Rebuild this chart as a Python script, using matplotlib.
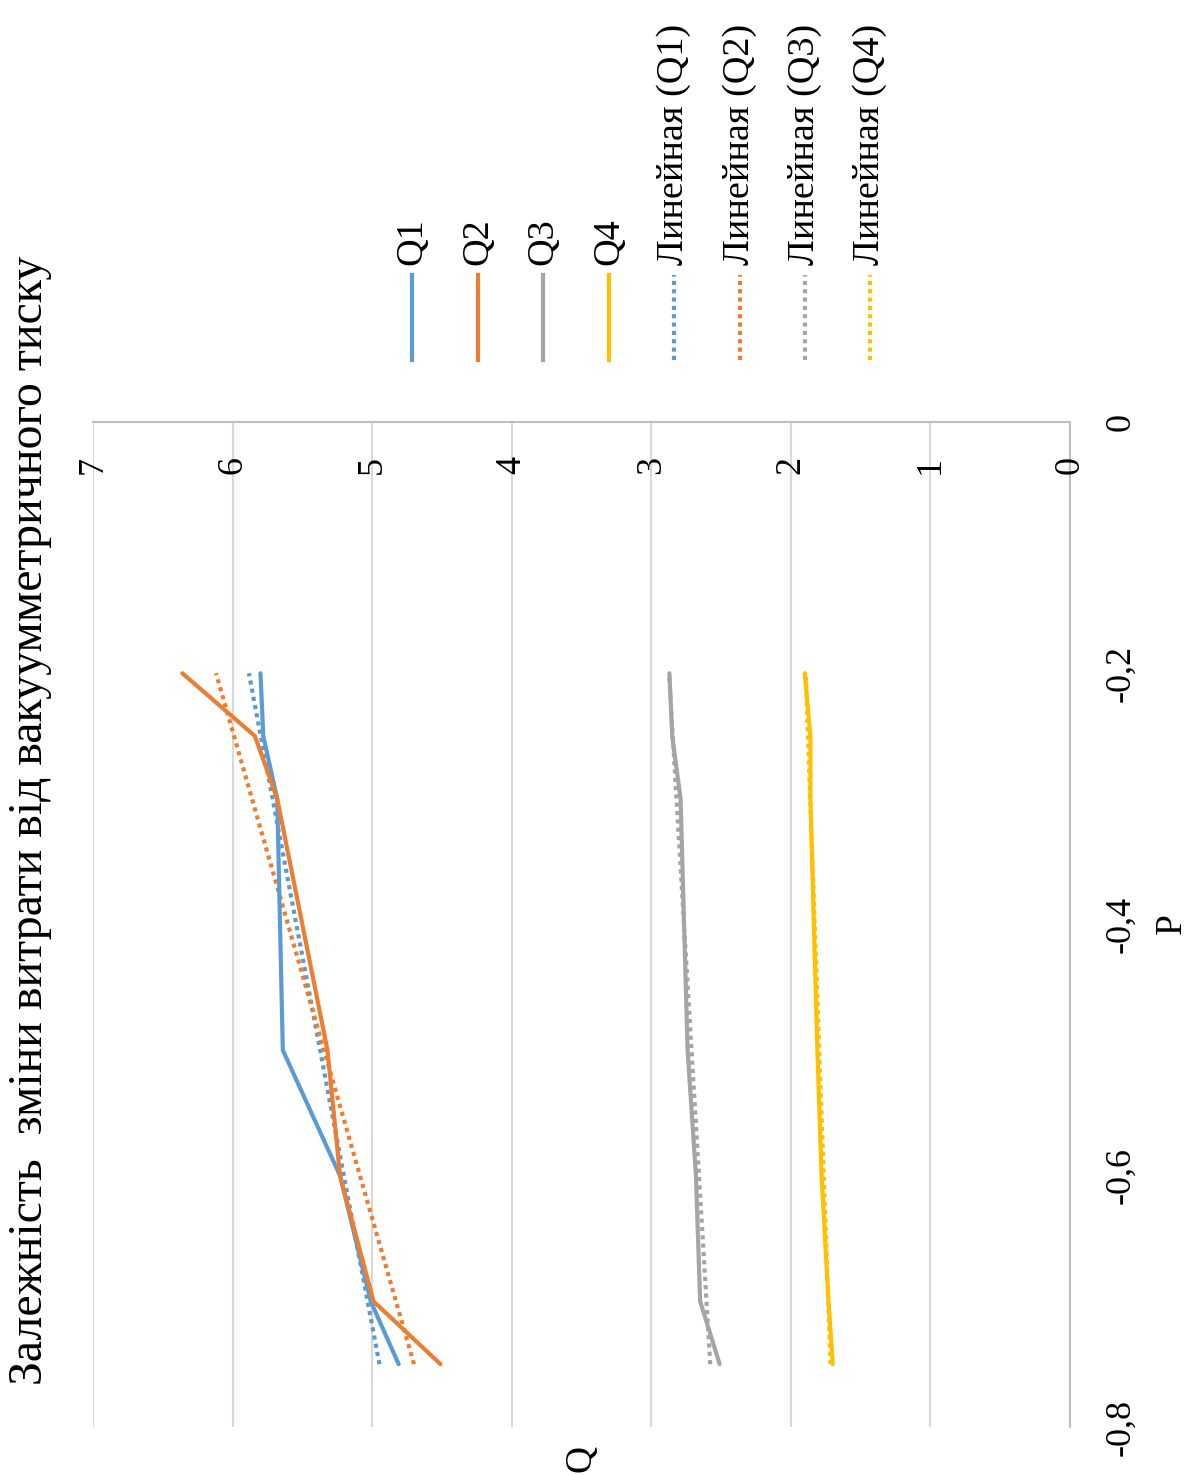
import numpy as np
import matplotlib.pyplot as plt
from matplotlib.lines import Line2D

plt.rcParams['font.family'] = ['Liberation Serif', 'DejaVu Serif']

# --- Data ---
p_vals = [-0.2, -0.25, -0.3, -0.5, -0.6, -0.7, -0.75]
q1 = [5.80, 5.78, 5.68, 5.64, 5.23, 5.01, 4.81]
q2 = [6.36, 5.84, 5.68, 5.32, 5.23, 4.99, 4.51]
q3 = [2.87, 2.85, 2.79, 2.74, 2.68, 2.65, 2.51]
q4 = [1.90, 1.86, 1.86, 1.81, 1.78, 1.73, 1.70]

series_names = ['Q1', 'Q2', 'Q3', 'Q4']
trend_names = ['Линейная (Q1)', 'Линейная (Q2)', 'Линейная (Q3)', 'Линейная (Q4)']
colors = ['#5B9BD5', '#ED7D31', '#A5A5A5', '#FFC000']

q_ticks = [0, 1, 2, 3, 4, 5, 6, 7]
p_ticks = [-0.8, -0.6, -0.4, -0.2, 0]
p_tick_labels = ['-0,8', '-0,6', '-0,4', '-0,2', '0']

title = 'Залежність  змiни витрати вiд вакуумметричного тиску'

# --- Figure (chart drawn rotated 90 degrees) ---
W, H = 1197, 1475
fig = plt.figure(figsize=(W / 100, H / 100), dpi=100)
ax = fig.add_axes([93 / W, 1 - 1427 / H, (1070 - 93) / W, (1427 - 422) / H])

ax.set_xlim(7, 0)
ax.set_ylim(-0.8, 0)

grid_c = '#D9D9D9'
for q in q_ticks[1:]:
    ax.axvline(q, color=grid_c, lw=1.5, zorder=0)
for s in ['left', 'bottom']:
    ax.spines[s].set_visible(False)
for s in ['top', 'right']:
    ax.spines[s].set_color('#BFBFBF')
    ax.spines[s].set_linewidth(1.5)

ax.set_xticks([])
ax.yaxis.tick_right()
ax.set_yticks(p_ticks)
ax.set_yticklabels(p_tick_labels, rotation=90, va='center', ha='left', fontsize=26)
ax.tick_params(axis='y', length=0, pad=25)

# Q tick labels sit inside the plot below the top axis line
for q in q_ticks:
    ax.text(q, 1 - 43 / 1005, str(q), transform=ax.get_xaxis_transform(),
            rotation=90, ha='center', va='center', fontsize=26)

dot = (0, (1, 1))
all_q = [q1, q2, q3, q4]
for vals, c in zip(all_q, colors):
    ax.plot(vals, p_vals, color=c, lw=3, solid_capstyle='round', zorder=3)
    k, b = np.polyfit(p_vals, vals, 1)
    pp = np.array([min(p_vals), max(p_vals)])
    ax.plot(k * pp + b, pp, color=c, lw=3, linestyle=dot,
            dash_capstyle='butt', zorder=2)

# axis labels
fig.text(1172 / W, 1 - 924 / H, 'P', rotation=90, ha='center', va='center', fontsize=27)
fig.text(581 / W, 1 - 1458 / H, 'Q', rotation=90, ha='center', va='center', fontsize=27)

# title
fig.text(30 / W, 1 - 820 / H, title, rotation=90, ha='center', va='center', fontsize=34.5)

# legend (manual, rotated)
leg_x = [412, 478, 543, 609, 674, 740, 805, 870]
labels = series_names + trend_names
for i, (x, lab) in enumerate(zip(leg_x, labels)):
    c = colors[i % 4]
    ls = '-' if i < 4 else dot
    fig.add_artist(Line2D([x / W, x / W], [1 - 360 / H, 1 - 275 / H], color=c, lw=3,
                          linestyle=ls, dash_capstyle='butt', transform=fig.transFigure))
    fig.text(x / W, 1 - 265 / H, lab, rotation=90, ha='center', va='bottom', fontsize=27.5)

fig.savefig('out.png', dpi=100)
